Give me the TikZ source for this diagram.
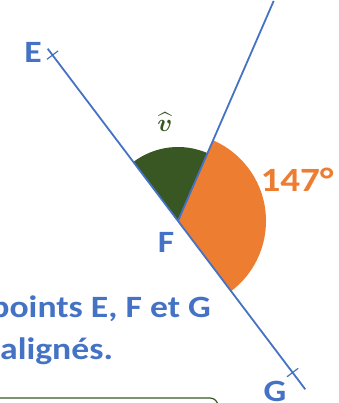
\documentclass[tikz,border=0pt]{standalone}
\usepackage{fontspec}
\setmainfont{Carlito}
\newfontfamily\widefont[FakeStretch=1.15]{Carlito}
\usepackage{amsmath}
\usetikzlibrary{calc}
\definecolor{lblue}{HTML}{4472C4}
\definecolor{lorange}{HTML}{ED7D31}
\definecolor{dgreen}{HTML}{385723}
\begin{document}
\begin{tikzpicture}[x=1pt,y=1pt,
  line/.style={draw=lblue,line width=1.8pt},
  tick/.style={draw=lblue,line width=1.2pt},
  lab/.style={text=lblue,font=\widefont\fontsize{31}{31}\selectfont\bfseries,inner sep=0pt},
  txt/.style={text=lblue,font=\widefont\fontsize{31}{31}\selectfont\bfseries,inner sep=0pt}]
\useasboundingbox (0,0) rectangle (338,403);
\coordinate (F) at (178,182);
\coordinate (Estart) at ($(F)+(127.1:216)$);
\coordinate (Gend) at ($(F)+(-52.9:211)$);
\coordinate (E) at ($(F)+(127.1:208)$);
\coordinate (G) at ($(F)+(-52.9:190)$);
\coordinate (R) at ($(F)+(66.5:240)$);
% sectors
\fill[dgreen] (F) -- ($(F)+(66.5:74)$) arc[start angle=66.5,end angle=127.1,radius=74] -- cycle;
\fill[lorange] (F) -- ($(F)+(-52.9:88)$) arc[start angle=-52.9,end angle=66.5,radius=88] -- cycle;
% lines
\draw[line] (Estart) -- (Gend);
\draw[line] (F) -- (R);
\draw[tick] ($(E)+(37.1:7)$) -- ($(E)+(217.1:7)$);
\draw[tick] ($(G)+(37.1:7)$) -- ($(G)+(217.1:7)$);
% labels
\node[lab] (Elab) at (33,351) {E};
\node[lab] (Flab) at (166,161) {F};
\node[lab] (Glab) at (275,12) {G};
\node[text=lorange,font=\widefont\fontsize{34}{34}\selectfont\bfseries,inner sep=0pt] (ang) at (297,223) {147°};
\node[text=dgreen,inner sep=0pt] (v) at (165,281) {\fontsize{28}{28}\selectfont$\boldsymbol{\widehat{v}}$};
% text
\node[txt,anchor=base east] (t1) at (211,85) {points E, F et G};
\node[txt,anchor=base west] (t2) at (0,43) {alignés.};
% box
\draw[dgreen,line width=1.2pt,rounded corners=8pt] (-10,-30) -- (-10,5) -- (218,5) -- (218,-30);
\end{tikzpicture}
\end{document}
